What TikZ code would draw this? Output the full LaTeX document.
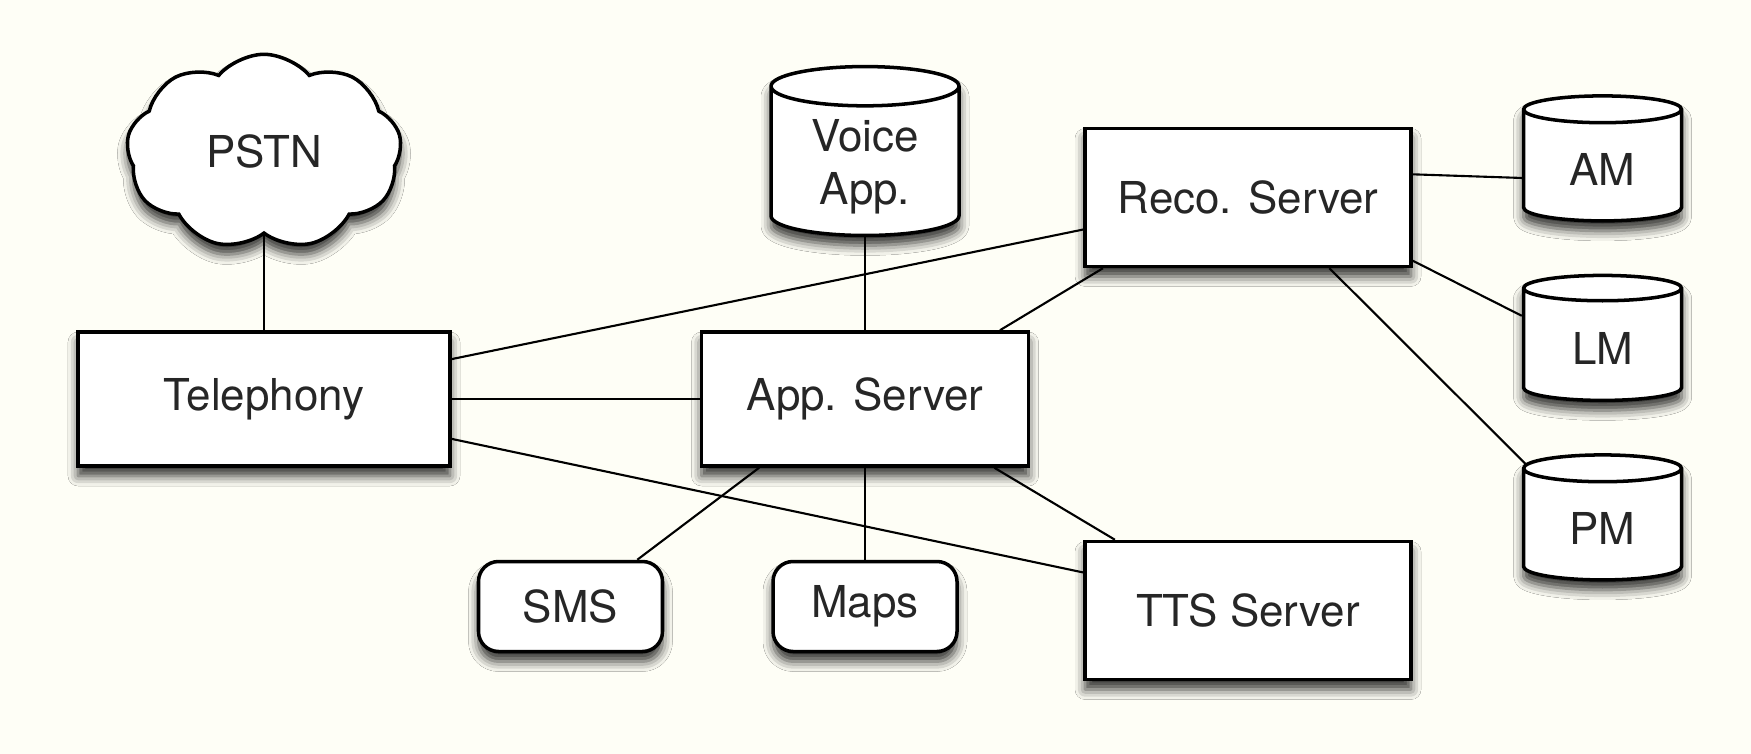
\documentclass[tikz,border=0pt]{standalone}
\usepackage{fontspec}
\setmainfont{TeX Gyre Heros}
\usetikzlibrary{shapes,shapes.geometric,shapes.symbols,positioning,shadows.blur}
\definecolor{paper}{RGB}{254,254,246}

\begin{document}
\begin{tikzpicture}[
        node distance=.5cm and .5cm,
        every node/.style={draw, line width=1pt, fill=white, align=center, text=black!85,
            font=\fontsize{12.5}{15}\selectfont,
            blur shadow={shadow xshift=0pt, shadow yshift=-.1cm, shadow blur radius=.1cm, shadow opacity=80}},
        every path/.style={line width=.6pt},
        server/.style={rectangle, minimum width=3.26cm, minimum height=1.38cm},
        service/.style={rectangle, rounded corners=.2cm, minimum width=1.84cm, minimum height=.9cm},
        store/.style={cylinder, shape border rotate=90, aspect=.3, minimum width=1.58cm, minimum height=1.25cm}
    ]

    \fill[paper] (0,0) rectangle (17.51,-7.54);

    % Nodes
    \node (tel) [server, minimum width=3.72cm, minimum height=1.34cm] at (2.64,-3.99) {Telephony};

    \node (pstn) [above=.95cm of tel, cloud, cloud puffs=9, cloud puff arc=100, cloud ignores aspect,
        minimum width=2.75cm, minimum height=1.95cm] {PSTN};

    \node (app) [right=2.48cm of tel, server, minimum width=3.27cm, minimum height=1.34cm] {App. Server};

    \node (voice) [above=.93cm of app, store, minimum width=1.88cm, minimum height=1.64cm] {Voice\\App.};

    \node (reco) [above right=.62cm and .53cm of app, server] {Reco. Server};
    \node (tts) [below right=.72cm and .53cm of app, server] {TTS Server};

    \node (maps) [below=.92cm of app, service] {Maps};
    \node (sms) [left=1.07cm of maps, service] {SMS};

    \node (am) [right=1.09cm of reco, store, yshift=.28cm] {AM};
    \node (lm) [below=.51cm of am, store] {LM};
    \node (pm) [below=.51cm of lm, store] {PM};

    % Edges
    \draw (pstn) -- (tel);
    \draw (tel.12) -- (reco.191);
    \draw (tel) -- (app);
    \draw (tel.-12) -- (tts.167);
    \draw (app) -- (voice);
    \draw (app.27) -- (reco.206);
    \draw (app.213) -- (sms.35);
    \draw (app) -- (maps);
    \draw (app.-28) -- (tts.152);
    \draw (reco.8) -- (am.186);
    \draw (reco.-21) -- (lm.158);
    \draw (reco.-41) -- (pm.140);

\end{tikzpicture}
\end{document}
